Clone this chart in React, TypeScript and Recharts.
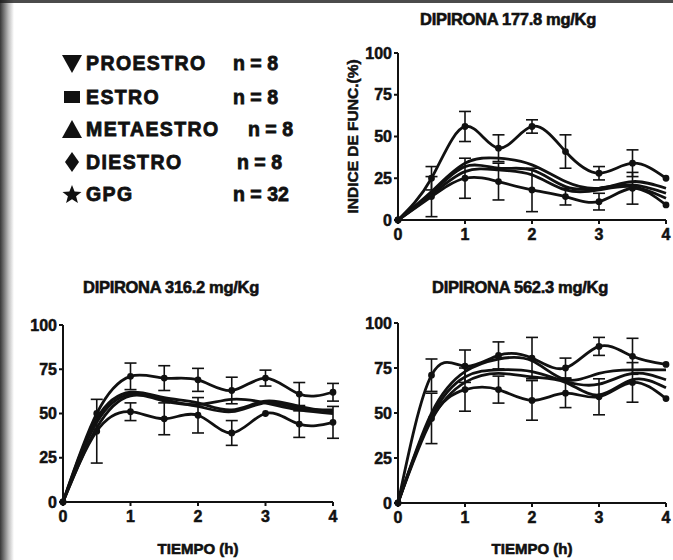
import React from 'react';
import { LineChart, Line, XAxis, YAxis, ErrorBar, Label } from 'recharts';

const hours = [0, 0.5, 1, 1.5, 2, 2.5, 3, 3.5, 4];
const xTicks = [0, 1, 2, 3, 4];
const yTicks = [0, 25, 50, 75, 100];
const seriesNames = ['PROESTRO', 'ESTRO', 'METAESTRO', 'DIESTRO', 'GPG'];
const seriesN = ['n = 8', 'n = 8', 'n = 8', 'n = 8', 'n = 32'];
const panelTitles = ['DIPIRONA 177.8 mg/Kg', 'DIPIRONA 316.2 mg/Kg', 'DIPIRONA 562.3 mg/Kg'];
const yLabel = 'INDICE DE FUNC.(%)';
const xLabel = 'TIEMPO (h)';

// DIPIRONA 177.8 mg/Kg
const a_s1 = [0, 25, 56, 43, 56, 41, 28, 34, 25];
const a_s2 = [0, 17, 34, 37, 33, 23, 19, 23, 19];
const a_s3 = [0, 16, 32, 31, 30, 20, 19, 21, 16];
const a_s4 = [0, 15, 29, 30, 27, 18, 18, 20, 13];
const a_s5 = [0, 14, 25, 23, 18, 14, 11, 19, 9];
const a_e1 = [null, 7, 9, 8, 4, 10, 4, 8, null];
const a_e5 = [null, 12, 12, 11, 13, 5, 5, 9.5, null];

// DIPIRONA 316.2 mg/Kg
const b_s1 = [0, 50, 71, 70, 69, 63, 70, 61, 62];
const b_s2 = [0, 47, 62, 59, 56, 52, 57, 54, 51];
const b_s3 = [0, 45, 61, 58, 55, 58, 56, 52, 50];
const b_s4 = [0, 42, 60, 57, 54, 51, 56, 53, 52];
const b_s5 = [0, 40, 51, 47, 49, 39, 50, 44, 45];
const b_e1 = [null, null, 7.5, 7, 6.5, 7.5, 4.5, 6.5, 5];
const b_e5 = [null, 18, 5, 9, 10, 7, null, 7.5, 9];

// DIPIRONA 562.3 mg/Kg
const c_s1 = [0, 71, 76, 82, 80.5, 75, 87, 81.5, 77];
const c_s2 = [0, 50, 73, 80, 79, 68.5, 72, 74, 74];
const c_s3 = [0, 48, 70, 74, 73, 67.5, 66, 72, 68.5];
const c_s4 = [0, 46, 67, 72, 70, 67, 60, 68.5, 64];
const c_s5 = [0, 47, 63, 63, 57, 61, 59, 67, 58];
const c_e1 = [null, 9, 9, 7.5, 11.5, 5.5, 5, 10, null];
const c_e5 = [null, 14, 12, 7.5, 11, 8, 10, 11, null];

const build = (s: number[][], e1: (number | null)[], e5: (number | null)[]) =>
  hours.map((h, i) => ({ h, s1: s[0][i], s2: s[1][i], s3: s[2][i], s4: s[3][i], s5: s[4][i], e1: e1[i], e5: e5[i] }));

const dataA = build([a_s1, a_s2, a_s3, a_s4, a_s5], a_e1, a_e5);
const dataB = build([b_s1, b_s2, b_s3, b_s4, b_s5], b_e1, b_e5);
const dataC = build([c_s1, c_s2, c_s3, c_s4, c_s5], c_e1, c_e5);

const FONT = '"Liberation Sans", Arial, sans-serif';
const INK = '#111';
const tickStyle = { fill: INK, stroke: INK, strokeWidth: 0.5, fontSize: 16, fontWeight: 700, fontFamily: FONT };

type PanelProps = {
  data: any[];
  left: number; top: number; width: number; height: number;
  margin: { top: number; right: number; bottom: number; left: number };
  yWidth: number; xHeight: number;
  showY?: boolean; showX?: boolean;
};

function Panel(p: PanelProps) {
  const keys = ['s1', 's2', 's3', 's4', 's5'];
  return (
    <div style={{ position: 'absolute', left: p.left, top: p.top }}>
      <LineChart width={p.width} height={p.height} data={p.data} margin={p.margin}>
        <XAxis type="number" dataKey="h" domain={[0, 4]} ticks={xTicks} height={p.xHeight}
          tick={tickStyle} tickSize={4} tickMargin={5} tickLine={{ stroke: INK, strokeWidth: 2 }}
          axisLine={{ stroke: INK, strokeWidth: 2 }} interval={0}>
          {p.showX ? <Label value={xLabel} position="insideBottom" offset={-4}
            style={{ fill: INK, stroke: INK, strokeWidth: 0.6, fontSize: 15, fontWeight: 700, fontFamily: FONT }} /> : null}
        </XAxis>
        <YAxis type="number" domain={[0, 100]} ticks={yTicks} width={p.yWidth}
          tick={tickStyle} tickSize={4} tickLine={{ stroke: INK, strokeWidth: 2 }}
          axisLine={{ stroke: INK, strokeWidth: 2 }} interval={0}>
          {p.showY ? <Label value={yLabel} angle={-90} position="insideLeft" offset={22}
            style={{ fill: INK, stroke: INK, strokeWidth: 0.5, fontSize: 15.5, fontWeight: 700, fontFamily: FONT, textAnchor: 'middle' }} /> : null}
        </YAxis>
        {keys.map((k) => (
          <Line key={k} type="natural" dataKey={k} stroke={INK} strokeWidth={2.8}
            dot={k === 's1' || k === 's5' ? { r: 2, fill: INK, stroke: INK } : false}
            isAnimationActive={false}>
            {k === 's1' ? <ErrorBar dataKey="e1" width={6} stroke={INK} strokeWidth={1.6} /> : null}
            {k === 's5' ? <ErrorBar dataKey="e5" width={6} stroke={INK} strokeWidth={1.6} /> : null}
          </Line>
        ))}
      </LineChart>
    </div>
  );
}

const symbolPaths = [
  'M0,2 L20,2 L10,20 Z',
  'M2,4 L18,4 L18,16 L2,16 Z',
  'M10,1 L20,19 L0,19 Z',
  'M10,0 L17,10 L10,20 L3,10 Z',
  'M10,1 L12.6,7.6 L19.5,7.9 L14.1,12.3 L15.9,19.1 L10,15.2 L4.1,19.1 L5.9,12.3 L0.5,7.9 L7.4,7.6 Z',
];
const legendRowY = [63, 97, 129, 162, 194];
const legendNX = [233, 233, 248, 237, 233];

const heavy: React.CSSProperties = { fontFamily: FONT, fontWeight: 700, color: INK, WebkitTextStroke: '0.8px #111', whiteSpace: 'nowrap' };

function Legend() {
  return (
    <>
      {seriesNames.map((name, i) => (
        <React.Fragment key={name}>
          <svg style={{ position: 'absolute', left: 62, top: legendRowY[i] - 10 }} width={21} height={21}>
            <path d={symbolPaths[i]} fill={INK} />
          </svg>
          <div style={{ ...heavy, position: 'absolute', left: 86, top: legendRowY[i] - 12,
            fontSize: 19.5, letterSpacing: 1.4, lineHeight: '24px' }}>{name}</div>
          <div style={{ ...heavy, position: 'absolute', left: legendNX[i], top: legendRowY[i] - 12,
            fontSize: 19.5, lineHeight: '24px' }}>{seriesN[i]}</div>
        </React.Fragment>
      ))}
    </>
  );
}

const titleStyle: React.CSSProperties = {
  ...heavy, position: 'absolute', fontSize: 16.5, WebkitTextStroke: '0.6px #111',
  transform: 'translate(-50%, -50%)', letterSpacing: -0.3,
};

export default function App() {
  return (
    <div style={{ position: 'absolute', left: 0, top: 0, width: 673, height: 560, background: '#fff', overflow: 'hidden' }}>
      <div style={{ position: 'absolute', left: 0, top: 0, width: 14, height: 560,
        background: 'linear-gradient(to right, rgba(20,20,20,0.85), rgba(60,60,60,0.35) 60%, rgba(255,255,255,0))' }} />
      <div style={{ position: 'absolute', left: 0, top: 0, width: 673, height: 3, background: 'rgba(30,30,30,0.8)' }} />
      <Legend />
      <div style={{ ...titleStyle, left: 508, top: 19 }}>{panelTitles[0]}</div>
      <div style={{ ...titleStyle, left: 171, top: 287 }}>{panelTitles[1]}</div>
      <div style={{ ...titleStyle, left: 520, top: 287 }}>{panelTitles[2]}</div>
      <Panel data={dataA} left={330} top={0} width={343} height={260}
        margin={{ top: 53, right: 7, bottom: 8, left: 0 }} yWidth={68} xHeight={32} showY />
      <Panel data={dataB} left={0} top={270} width={340} height={290}
        margin={{ top: 55, right: 7, bottom: 10, left: 0 }} yWidth={63} xHeight={48} showX />
      <Panel data={dataC} left={340} top={270} width={333} height={290}
        margin={{ top: 53, right: 7, bottom: 10, left: 0 }} yWidth={58} xHeight={47} showX />
    </div>
  );
}
